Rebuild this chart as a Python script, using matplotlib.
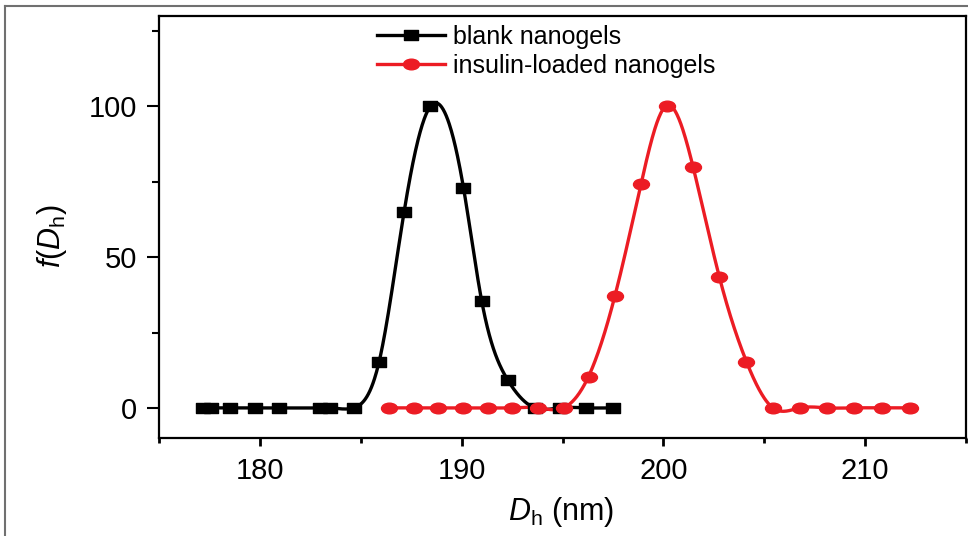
import numpy as np
import matplotlib
matplotlib.use("Agg")
import matplotlib.pyplot as plt
from matplotlib.path import Path
from matplotlib.transforms import Affine2D
from matplotlib.lines import Line2D

# ---- data ----
blank_d = [177.20, 177.59, 178.53, 179.74, 180.94, 182.98, 183.46, 184.65,
           185.91, 187.15, 188.45, 190.09, 191.00, 192.28, 193.62, 194.87,
           196.17, 197.49]
blank_f = [0, 0, 0, 0, 0, 0, 0, 0,
           15.3, 65.1, 100.0, 73.1, 35.3, 9.3, 0, 0,
           0, 0]

insulin_d = [186.41, 187.62, 188.82, 190.06, 191.30, 192.51, 193.78, 195.05,
             196.29, 197.60, 198.89, 200.17, 201.47, 202.78, 204.12, 205.43,
             206.78, 208.10, 209.46, 210.84, 212.20]
insulin_f = [0, 0, 0, 0, 0, 0, 0, 0,
             10.4, 37.2, 74.2, 100.3, 80.0, 43.3, 15.3, 0,
             0, 0, 0, 0, 0]

series_labels = ["blank nanogels", "insulin-loaded nanogels"]
x_major = [180, 190, 200, 210]
y_major = [0, 50, 100]


def natural_spline(x, y, n=800):
    x = np.asarray(x, float); y = np.asarray(y, float)
    m = len(x); h = np.diff(x)
    A = np.zeros((m, m)); r = np.zeros(m)
    A[0, 0] = 1; A[-1, -1] = 1
    for i in range(1, m - 1):
        A[i, i - 1] = h[i - 1]
        A[i, i] = 2 * (h[i - 1] + h[i])
        A[i, i + 1] = h[i]
        r[i] = 3 * ((y[i + 1] - y[i]) / h[i] - (y[i] - y[i - 1]) / h[i - 1])
    c = np.linalg.solve(A, r)
    b = (y[1:] - y[:-1]) / h - h * (2 * c[:-1] + c[1:]) / 3
    d = (c[1:] - c[:-1]) / (3 * h)
    xs = np.linspace(x[0], x[-1], n)
    idx = np.clip(np.searchsorted(x, xs, side="right") - 1, 0, m - 2)
    t = xs - x[idx]
    ys = y[idx] + b[idx] * t + c[idx] * t ** 2 + d[idx] * t ** 3
    return xs, ys


plt.rcParams['font.family'] = ['Liberation Sans', 'DejaVu Sans']
plt.rcParams['mathtext.fontset'] = 'custom'
plt.rcParams['mathtext.rm'] = 'Liberation Sans'
plt.rcParams['mathtext.it'] = 'Liberation Sans:italic'

fig = plt.figure(figsize=(9.68, 5.36), dpi=100)
W, H = 968, 536
ax = fig.add_axes([159 / W, 1 - 438 / H, (966 - 159) / W, (438 - 16) / H])

# stretched markers (reference is horizontally stretched)
sq = Path([(-0.635, -0.5), (0.635, -0.5), (0.635, 0.5), (-0.635, 0.5), (-0.635, -0.5)],
          [Path.MOVETO, Path.LINETO, Path.LINETO, Path.LINETO, Path.CLOSEPOLY])
ell = Affine2D().scale(1.5, 1.0).transform_path(Path.unit_circle())

black = "#000000"
red = "#ec1c24"

xs, ys = natural_spline(blank_d, blank_f)
ax.plot(xs, ys, color=black, lw=2.4, zorder=2)
ax.plot(blank_d, blank_f, ls="none", marker=sq, ms=9.4, color=black, zorder=3)

xs2, ys2 = natural_spline(insulin_d, insulin_f)
ax.plot(xs2, ys2, color=red, lw=2.4, zorder=2)
ax.plot(insulin_d, insulin_f, ls="none", marker=ell, ms=11.5, color=red, zorder=3)

ax.set_xlim(175, 215)
ax.set_ylim(-10, 130)
ax.set_xticks(x_major)
ax.set_xticks(np.arange(175, 216, 5), minor=True)
ax.set_yticks(y_major)
ax.set_yticks(np.arange(0, 126, 25), minor=True)
ax.tick_params(axis='x', which='major', direction='out', length=6, width=2, pad=8, labelsize=21)
ax.tick_params(axis='x', which='minor', direction='out', length=3.5, width=2)
ax.tick_params(axis='y', which='major', direction='out', length=9, width=1.5, pad=7, labelsize=21)
ax.tick_params(axis='y', which='minor', direction='out', length=5, width=1.5)
ax.tick_params(top=False, right=False, which='both')
for s in ax.spines.values():
    s.set_linewidth(1.6)

# legend
handles = [Line2D([], [], color=black, lw=2.4, marker=sq, ms=9.4),
           Line2D([], [], color=red, lw=2.4, marker=ell, ms=11.5)]
ax.legend(handles, series_labels, loc='upper left',
          bbox_to_anchor=(377 / W, 1 - 25 / H), bbox_transform=fig.transFigure,
          frameon=False, fontsize=18, handlelength=2.7, handletextpad=0.35,
          labelspacing=0.2, borderpad=0, borderaxespad=0, numpoints=1)

# axis labels
fig.text(561 / W, 1 - 520 / H, r"$D_{\mathrm{h}}$ (nm)", ha='center', va='baseline', fontsize=22)
fig.text(52 / W, 1 - 236 / H, r"$f$($D_{\mathrm{h}}$)", ha='center', va='center',
         rotation=90, fontsize=22)

# outer gray frame
fig.add_artist(Line2D([5 / W, 1.0], [1 - 6 / H, 1 - 6 / H], transform=fig.transFigure,
                      color="#707070", lw=1.5))
fig.add_artist(Line2D([5 / W, 5 / W], [0, 1 - 6 / H], transform=fig.transFigure,
                      color="#707070", lw=1.5))

fig.savefig("out.png", dpi=100)
